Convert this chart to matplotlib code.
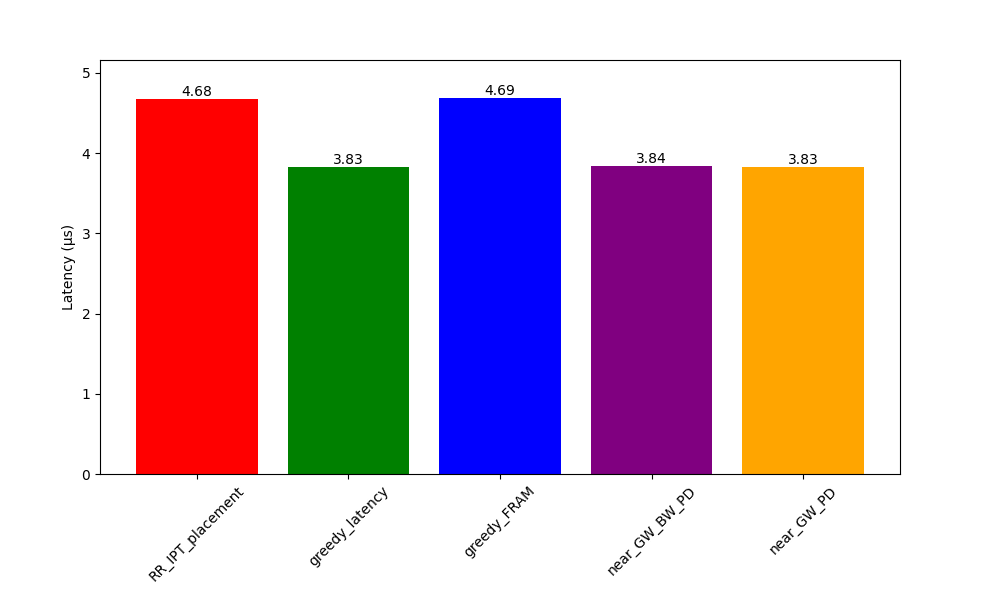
import matplotlib
matplotlib.use("Agg")
import matplotlib.pyplot as plt

categories = ["RR_IPT_placement", "greedy_latency", "greedy_FRAM", "near_GW_BW_PD", "near_GW_PD"]
latency = [4.676, 3.83, 4.69, 3.84, 3.83]
colors = ["red", "green", "blue", "purple", "orange"]

fig, ax = plt.subplots(figsize=(10, 6), dpi=100)
bars = ax.bar(categories, latency, color=colors)
for b, v in zip(bars, latency):
    ax.text(b.get_x() + b.get_width() / 2, v, f"{v:.2f}", ha="center", va="bottom")
ax.set_ylabel("Latency (μs)")
ax.set_ylim(0, max(latency) * 1.1)
plt.xticks(rotation=45)
fig.subplots_adjust(left=0.1, right=0.9, top=0.9, bottom=0.21)
fig.savefig("out.png")
